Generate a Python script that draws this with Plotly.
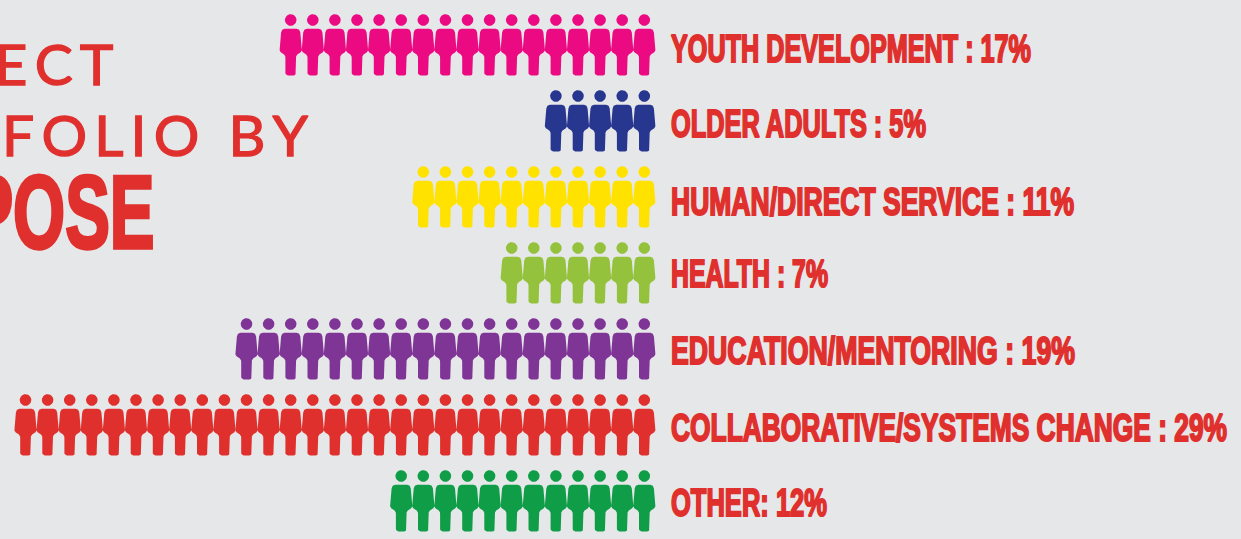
import json
import math
import plotly.graph_objects as go

categories = ["YOUTH DEVELOPMENT", "OLDER ADULTS", "HUMAN/DIRECT SERVICE", "HEALTH",
              "EDUCATION/MENTORING", "COLLABORATIVE/SYSTEMS CHANGE", "OTHER"]
percent = [17, 5, 11, 7, 19, 29, 12]
separators = [" : ", " : ", " : ", " : ", " : ", " : ", ": "]
colors = ["#EC0A82", "#27378F", "#FFE200", "#94C23C", "#7F3596", "#E0302D", "#0F9D48"]

W, H = 1241, 539
BG = "#E6E7E9"
RED = "#E0302D"
PX_X, PX_Y = 22.1, 76.0      # px per person / per row
X0, Y0 = 644.3, 44.5         # px of first person, first row
label_nudge_px = [8, 7, 9, 5, 6, 7, 6]
label_width_px = [360, 255, 403, 157, 404, 556, 156]

def arc(cx, cy, r, a0, a1, n):
    return [(cx + r * math.cos(math.radians(a0 + (a1 - a0) * i / n)),
             cy + r * math.sin(math.radians(a0 + (a1 - a0) * i / n))) for i in range(n + 1)]

# person outline in px relative to the person's centre
HEAD = arc(0, -24.5, 5.8, 0, 360, 28)
right = [(6, -15.7), (8.5, -14.8), (9.6, -12), (10.3, -5), (10.9, 2), (11.1, 5.8), (10, 7.8),
         (6.6, 10), (5.4, 12), (5.3, 14)] + [(5.3, 28.3)] + arc(2.8, 28.4, 2.5, 0, 90, 5)
BODY = right + [(-x, y) for x, y in reversed(right)]

def person(i, row):
    xs, ys = [], []
    for part in (HEAD, BODY):
        xs += [-i + p[0] / PX_X for p in part] + [None]
        ys += [row + p[1] / PX_Y for p in part] + [None]
    return xs, ys

fig = go.Figure()
for row, (cat, val, col) in enumerate(zip(categories, percent, colors)):
    xs, ys = [], []
    for i in range(val):
        a, b = person(i, row)
        xs += a
        ys += b
    fig.add_trace(go.Scatter(x=xs, y=ys, mode="lines", fill="toself", fillcolor=col,
                             line=dict(width=0, color=col), hoverinfo="skip", showlegend=False, name=cat))

labels = [f"{c}{s}{p}%" for c, s, p in zip(categories, separators, percent)]
fig.add_trace(go.Scatter(
    x=[(671 - X0) / PX_X] * len(labels),
    y=[r + n / PX_Y for r, n in enumerate(label_nudge_px)],
    mode="text", text=labels, textposition="middle right", cliponaxis=False, showlegend=False, hoverinfo="skip",
    textfont=dict(family="Liberation Sans", size=38, color=RED, weight="bold"),
))

sp = "\u2009"
def title(text, right_px, mid_px, size, family, weight="normal"):
    fig.add_trace(go.Scatter(
        x=[(right_px - X0) / PX_X], y=[(mid_px - Y0) / PX_Y], mode="text", text=[text],
        textposition="middle left", cliponaxis=False, showlegend=False, hoverinfo="skip",
        textfont=dict(family=family, size=size, color=RED, weight=weight)))

title(sp.join("PROJECT"), 113.5, 71, 57, "Lato")
title(sp.join("PORTFOLIO") + "  " + sp.join("BY"), 308, 142, 57, "Lato")
title("PURPOSE", 154.5, 222, 103, "Liberation Sans", "bold")

fig.update_layout(
    width=W, height=H, margin=dict(l=0, r=0, t=0, b=0),
    paper_bgcolor=BG, plot_bgcolor=BG,
    xaxis=dict(range=[-X0 / PX_X, (W - X0) / PX_X], visible=False, fixedrange=True),
    yaxis=dict(range=[(H - Y0) / PX_Y, -Y0 / PX_Y], visible=False, fixedrange=True),
)

# page margin off; no condensed heavy face is installed, so bold text is narrowed and thickened in place
post = """
document.body.style.margin = '0';
var widths = %s;
document.querySelectorAll('.textpoint text').forEach(function (t) {
  var bold = parseInt(getComputedStyle(t).fontWeight) >= 700;
  var w = widths[t.textContent];
  t.style.stroke = '%s';
  t.style.strokeWidth = w ? '2px' : (bold ? '3.5px' : '1.3px');
  if (bold) {
    t.setAttribute('textLength', w || t.getComputedTextLength() * 0.65);
    t.setAttribute('lengthAdjust', 'spacingAndGlyphs');
  }
});
""" % (json.dumps(dict(zip(labels, label_width_px))), RED)
fig.write_html("out.html", config=dict(displayModeBar=False), post_script=post)
